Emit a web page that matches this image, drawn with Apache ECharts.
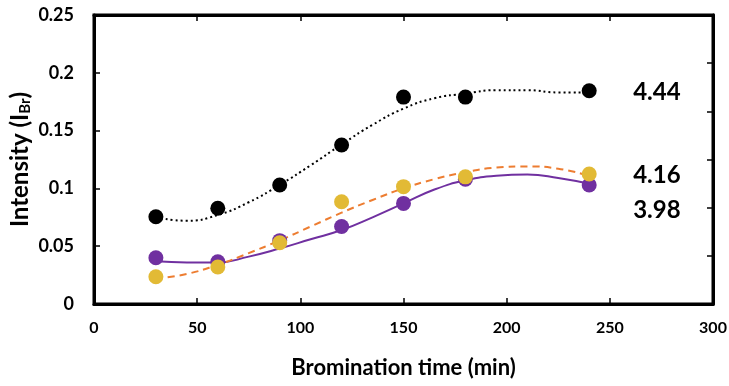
<!DOCTYPE html>
<html>
<head>
<meta charset="utf-8">
<script src="https://cdn.jsdelivr.net/npm/echarts@6/dist/echarts.min.js"></script>
<style>
  html, body { margin: 0; padding: 0; background: #fff; }
  #chart { width: 729px; height: 386px; }
</style>
</head>
<body>
<div id="chart"></div>
<script>
// measured points
const times = [30, 60, 90, 120, 150, 180, 240];
const black = [0.0755, 0.0828, 0.103, 0.1375, 0.179, 0.179, 0.1845];
const purple = [0.040, 0.0366, 0.0548, 0.067, 0.087, 0.108, 0.103];
const yellow = [0.0236, 0.032, 0.053, 0.0885, 0.1015, 0.110, 0.1125];

// fitted curves
const fitTimes = [30, 45, 60, 75, 90, 105, 120, 135, 150, 165, 180, 195, 210, 225, 240];
const blackFit = [0.075, 0.072, 0.077, 0.088, 0.103, 0.120, 0.138, 0.155, 0.169, 0.178, 0.182, 0.185, 0.185, 0.183, 0.183];
const purpleFit = [0.037, 0.036, 0.036, 0.041, 0.048, 0.056, 0.064, 0.075, 0.087, 0.099, 0.107, 0.111, 0.112, 0.109, 0.104];
const orangeFit = [0.022, 0.026, 0.034, 0.044, 0.055, 0.067, 0.079, 0.090, 0.100, 0.108, 0.114, 0.118, 0.119, 0.117, 0.111];

const endLabels = ['4.44', '3.98', '4.16'];

const font = 'Lato, "Open Sans", sans-serif';
const pairs = (xs, ys) => xs.map((x, i) => [x, ys[i]]);

const chart = echarts.init(document.getElementById('chart'), null, { renderer: 'canvas' });

const frameLine = () => ({ show: true, onZero: false, lineStyle: { color: '#000', width: 3 } });
const frameTick = () => ({ show: true, inside: true, length: 6, lineStyle: { color: '#000', width: 1.5 } });

function fitSeries(data, color, type, label, offset) {
  return {
    type: 'line',
    data: pairs(fitTimes, data),
    smooth: true,
    showSymbol: false,
    silent: true,
    lineStyle: { color, width: 2, type },
    z: 2,
    endLabel: {
      show: true,
      formatter: label,
      distance: 44,
      offset,
      color: '#000',
      fontFamily: font,
      fontWeight: 'bold',
      fontSize: 24,
    },
  };
}

function pointSeries(data, color) {
  return {
    type: 'scatter',
    data: pairs(times, data),
    symbol: 'circle',
    symbolSize: 15,
    itemStyle: { color, opacity: 1 },
    z: 3,
  };
}

chart.setOption({
  animation: false,
  grid: {
    left: 94,
    right: 16,
    top: 15,
    bottom: 82,
    outerBoundsMode: 'none',
    containLabel: false,
    show: true,
    borderColor: '#000',
    borderWidth: 3,
    backgroundColor: 'transparent',
  },
  xAxis: [
    {
      type: 'value',
      min: 0,
      max: 300,
      interval: 50,
      name: 'Bromination time (min)',
      nameLocation: 'middle',
      nameGap: 53,
      nameMoveOverlap: false,
      nameTextStyle: { color: '#000', fontFamily: font, fontWeight: 'bold', fontSize: 22 },
      axisLine: frameLine(),
      axisTick: frameTick(),
      axisLabel: { color: '#000', fontFamily: font, fontWeight: 'bold', fontSize: 16, margin: 16 },
      splitLine: { show: false },
    },
    {
      type: 'value',
      position: 'top',
      min: 0,
      max: 300,
      interval: 50,
      axisLine: frameLine(),
      axisTick: frameTick(),
      axisLabel: { show: false },
      splitLine: { show: false },
    },
  ],
  yAxis: [
    {
      type: 'value',
      min: 0,
      max: 0.25,
      interval: 0.05,
      name: '{a|Intensity (I}{s|Br}{a|)}',
      nameLocation: 'middle',
      nameGap: 61,
      nameMoveOverlap: false,
      nameTextStyle: {
        rich: {
          a: { color: '#000', fontFamily: font, fontWeight: 'bold', fontSize: 24 },
          s: { color: '#000', fontFamily: font, fontWeight: 'bold', fontSize: 15, verticalAlign: 'bottom', padding: [10, 0, 0, 0] },
        },
      },
      axisLine: frameLine(),
      axisTick: frameTick(),
      axisLabel: { color: '#000', fontFamily: font, fontWeight: 'bold', fontSize: 18, margin: 20 },
      splitLine: { show: false },
    },
    {
      type: 'value',
      position: 'right',
      min: 0,
      max: 6,
      interval: 1,
      axisLine: frameLine(),
      axisTick: frameTick(),
      axisLabel: { show: false },
      splitLine: { show: false },
    },
  ],
  series: [
    fitSeries(blackFit, '#000000', [2, 3], endLabels[0], [0, 0]),
    fitSeries(purpleFit, '#7030A0', 'solid', endLabels[1], [0, 26]),
    pointSeries(black, '#000000'),
    pointSeries(purple, '#7030A0'),
    pointSeries(yellow, '#E2BA35'),
    fitSeries(orangeFit, '#ED7D31', [7, 5], endLabels[2], [0, 0]),
  ],
});
</script>
</body>
</html>
